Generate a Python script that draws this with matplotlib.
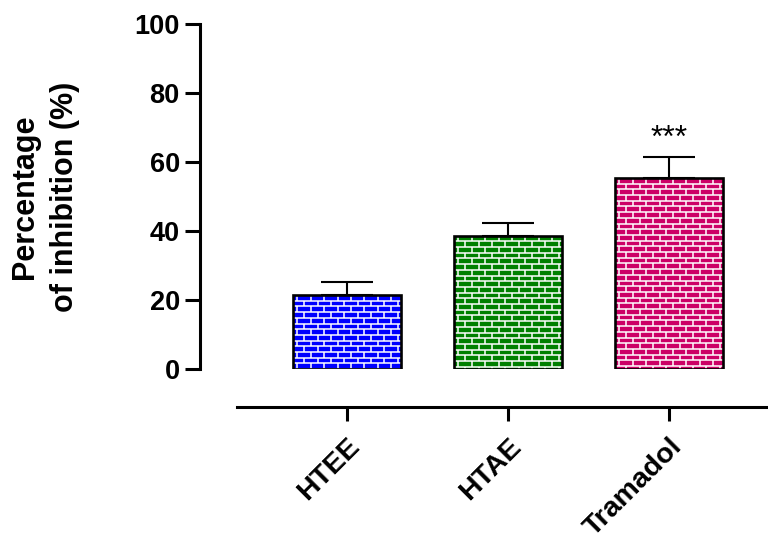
import matplotlib

matplotlib.use("Agg")
import matplotlib.pyplot as plt
import numpy as np
from matplotlib.collections import LineCollection

plt.rcParams["font.family"] = ["Liberation Sans", "DejaVu Sans"]
plt.rcParams["font.weight"] = "bold"

groups = ["HTEE", "HTAE", "Tramadol"]
means = [21.5, 38.7, 55.4]
sems = [3.8, 3.8, 6.2]
colors = ["#0000ff", "#008000", "#cc0066"]
sig_labels = ["", "", "***"]
y_ticks = [0, 20, 40, 60, 80, 100]


def add_bricks(ax, rect, row_h=1.65, brick_w=0.083, lw=1.1):
    """Overlay a white brick (mortar) pattern clipped to a bar."""
    x0, w = rect.get_x(), rect.get_width()
    top = rect.get_y() + rect.get_height()
    n_rows = int(np.ceil(rect.get_height() / row_h))
    segs = []
    for i in range(n_rows + 1):
        y = top - i * row_h
        segs.append([(x0, y), (x0 + w, y)])
    for i in range(n_rows):
        ya, yb = top - i * row_h, top - (i + 1) * row_h
        offset = brick_w * 0.3 if i % 2 == 0 else brick_w * 0.8
        for x in np.arange(x0 + offset, x0 + w, brick_w):
            segs.append([(x, ya), (x, yb)])
    lc = LineCollection(segs, colors="white", linewidths=lw, zorder=2)
    ax.add_collection(lc)
    lc.set_clip_path(rect)


fig = plt.figure(figsize=(7.68, 5.37), dpi=100)
ax = fig.add_axes([200 / 768, 1 - 369.3 / 537, 568 / 768, 345.3 / 537])

x = np.arange(len(groups))
bars = ax.bar(x, means, width=0.665, color=colors, edgecolor="none", zorder=1)
for rect in bars:
    add_bricks(ax, rect)
ax.bar(x, means, width=0.665, fill=False, edgecolor="black", linewidth=1.9, zorder=3)

ax.errorbar(
    x,
    means,
    yerr=[np.zeros(len(sems)), sems],
    fmt="none",
    ecolor="black",
    elinewidth=1.5,
    capsize=19,
    capthick=1.5,
    zorder=3,
)

for xi, m, s, lab in zip(x, means, sems, sig_labels):
    if lab:
        ax.text(xi, m + s + 0.9, lab, ha="center", va="bottom",
                fontsize=23, fontweight="normal")

ax.set_xlim(-0.913, 2.615)
ax.set_ylim(0, 100)
ax.set_yticks(y_ticks)
ax.set_xticks(x)
ax.set_xticklabels(groups)

for side in ("top", "right"):
    ax.spines[side].set_visible(False)
ax.spines["left"].set_linewidth(2.2)
ax.spines["left"].set_bounds(0, 100)
ax.spines["bottom"].set_linewidth(2.2)
ax.spines["bottom"].set_position(("outward", 27))
ax.spines["bottom"].set_bounds(-0.683, 2.615)

ax.tick_params(axis="y", length=11, width=2.2, labelsize=19.5, pad=3.5)
ax.tick_params(axis="x", length=10, width=2.2, labelsize=20.5, pad=9)
plt.setp(ax.get_xticklabels(), rotation=45, ha="right", va="top",
         rotation_mode="anchor")

fig.text(45 / 768, 1 - 197 / 537, "Percentage\nof inhibition (%)",
         rotation=90, ha="center", va="center", fontsize=22,
         linespacing=1.4)

fig.savefig("out.png", dpi=100)
